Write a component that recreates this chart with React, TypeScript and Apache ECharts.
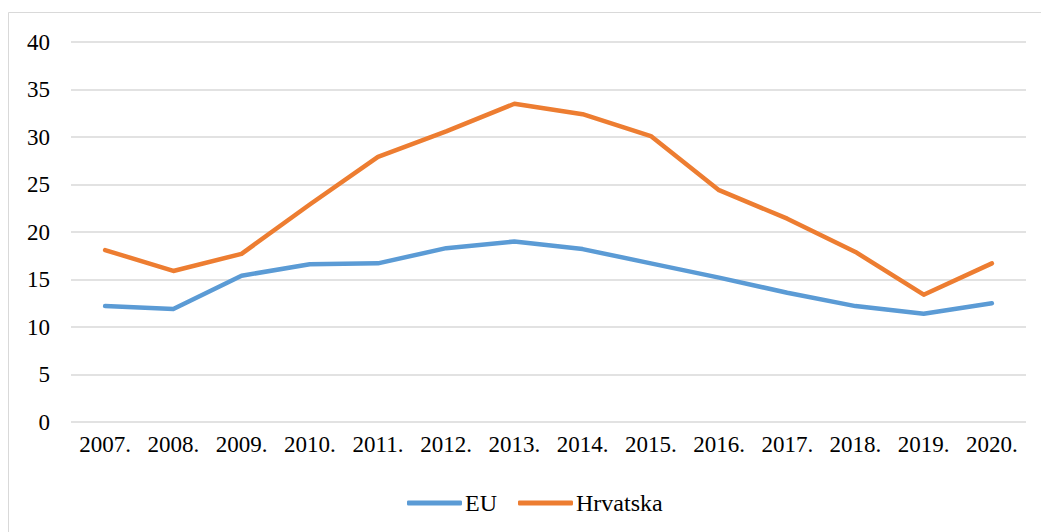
import React, { useEffect, useRef } from "react";
import * as echarts from "echarts";

const categories = ["2007.", "2008.", "2009.", "2010.", "2011.", "2012.", "2013.", "2014.", "2015.", "2016.", "2017.", "2018.", "2019.", "2020."];
const euValues = [12.2, 11.9, 15.4, 16.6, 16.7, 18.3, 19.0, 18.2, 16.7, 15.2, 13.6, 12.2, 11.4, 12.5];
const hrValues = [18.1, 15.9, 17.7, 22.9, 27.9, 30.6, 33.5, 32.4, 30.1, 24.4, 21.4, 17.9, 13.4, 16.7];
const yTicks = { min: 0, max: 40, interval: 5 };

const FONT = "Liberation Serif";

export default function App() {
  const ref = useRef<HTMLDivElement>(null);
  useEffect(() => {
    if (!ref.current) return;
    const chart = echarts.init(ref.current, null, { renderer: "svg" });
    chart.setOption({
      animation: false,
      backgroundColor: "#ffffff",
      textStyle: { fontFamily: FONT },
      graphic: [
        {
          type: "rect",
          silent: true,
          shape: { x: 8.5, y: 12.5, width: 1040, height: 530 },
          style: { fill: "none", stroke: "#d9d9d9", lineWidth: 1 },
        },
      ],
      grid: { left: 71, right: 15, top: 42, bottom: 110, containLabel: false },
      legend: {
        bottom: 17,
        left: 407,
        icon: "roundRect",
        itemWidth: 55,
        itemHeight: 5,
        itemGap: 21,
        padding: 0,
        textStyle: { fontFamily: FONT, fontSize: 24, color: "#000000", padding: [0, 0, 0, -2] },
        data: ["EU", "Hrvatska"],
      },
      xAxis: {
        type: "category",
        data: categories,
        boundaryGap: true,
        axisLine: { show: false },
        axisTick: { show: false },
        axisLabel: { fontFamily: FONT, fontSize: 23, color: "#000000", margin: 11, interval: 0 },
      },
      yAxis: {
        type: "value",
        min: yTicks.min,
        max: yTicks.max,
        interval: yTicks.interval,
        axisLine: { show: false },
        axisTick: { show: false },
        axisLabel: { fontFamily: FONT, fontSize: 23, color: "#000000", margin: 21 },
        splitLine: { lineStyle: { color: "#d9d9d9", width: 1.5 } },
      },
      series: [
        {
          name: "EU",
          type: "line",
          data: euValues,
          symbol: "none",
          lineStyle: { color: "#5B9BD5", width: 4.5, cap: "round", join: "round" },
          itemStyle: { color: "#5B9BD5" },
        },
        {
          name: "Hrvatska",
          type: "line",
          data: hrValues,
          symbol: "none",
          lineStyle: { color: "#ED7D31", width: 4.5, cap: "round", join: "round" },
          itemStyle: { color: "#ED7D31" },
        },
      ],
    });
    return () => chart.dispose();
  }, []);
  return (
    <div
      ref={ref}
      style={{ position: "fixed", left: 0, top: 0, width: 1041, height: 532 }}
    />
  );
}
